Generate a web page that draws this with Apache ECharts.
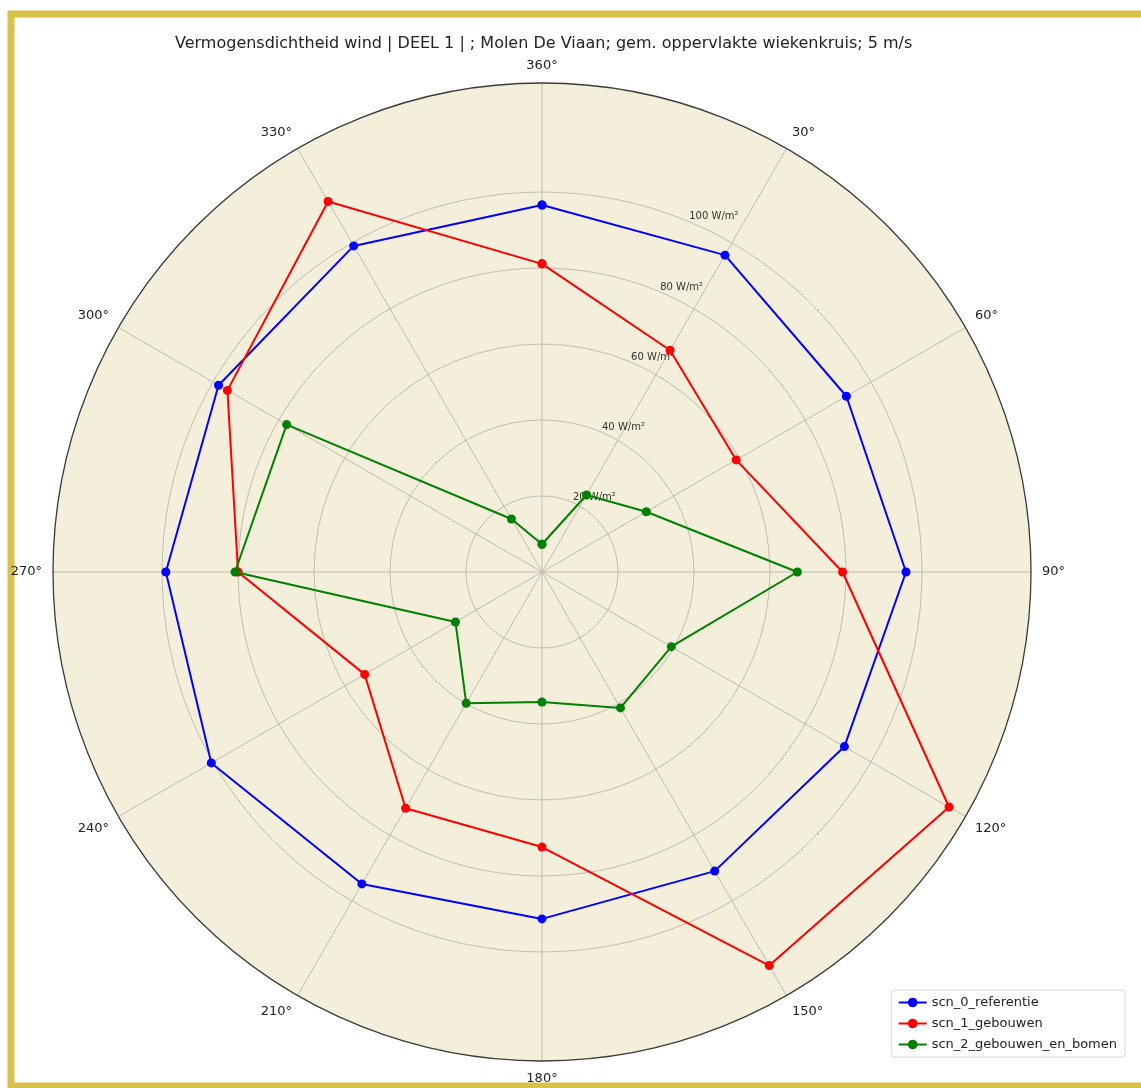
<!DOCTYPE html>
<html>
<head>
<meta charset="utf-8">
<script src="https://cdn.jsdelivr.net/npm/echarts@6/dist/echarts.min.js"></script>
<style>
  html, body { margin: 0; padding: 0; background: #ffffff; }
  #chart { width: 1141px; height: 1088px; }
</style>
</head>
<body>
<div id="chart"></div>
<script>
// Wind directions (degrees, clockwise from north)
const directions = [0, 30, 60, 90, 120, 150, 180, 210, 240, 270, 300, 330];

// Power density per direction (W/m²)
const referentie = [96.6, 96.3, 92.5, 95.8, 91.9, 90.9, 91.3, 94.8, 100.5, 99.0, 98.3, 99.1];
const gebouwen = [81.1, 67.4, 59.0, 79.1, 123.7, 119.6, 72.4, 71.8, 53.9, 80.0, 95.6, 112.6];
const gebouwenEnBomen = [7.3, 23.4, 31.7, 67.2, 39.3, 41.3, 34.2, 39.9, 26.3, 80.8, 77.6, 16.1];

const seriesNames = ['scn_0_referentie', 'scn_1_gebouwen', 'scn_2_gebouwen_en_bomen'];
const seriesColors = ['#0000ff', '#ff0000', '#008000'];

// Radial ticks that get a ring and a label
const radiusTicks = [20, 40, 60, 80, 100];
const radiusMax = 128.7;
const angleTicks = [0, 30, 60, 90, 120, 150, 180, 210, 240, 270, 300, 330];

const FONT = 'DejaVu Sans';
const GRID = '#bfbdb3';
const FACE = '#f4efdb';

// Closed ring: repeat the first direction at the end
function ring(values) {
  const pts = directions.map((d, i) => [values[i], d]);
  pts.push([values[0], 360]);
  return pts;
}

const chart = echarts.init(document.getElementById('chart'), null, { renderer: 'canvas' });

// Ring colours by tick index: 0, 20..100, 120, outer
const ringColors = ['rgba(0,0,0,0)'];
radiusTicks.forEach(() => ringColors.push(GRID));
ringColors.push('rgba(0,0,0,0)', 'rgba(0,0,0,0)');

const series = [referentie, gebouwen, gebouwenEnBomen].map((vals, i) => ({
  name: seriesNames[i],
  type: 'line',
  coordinateSystem: 'polar',
  polarIndex: 0,
  data: ring(vals),
  symbol: 'circle',
  symbolSize: 9,
  showSymbol: true,
  color: seriesColors[i],
  lineStyle: { width: 2, color: seriesColors[i] },
  itemStyle: { color: seriesColors[i] },
  animation: false,
  z: 3 + i
}));

chart.setOption({
  animation: false,
  backgroundColor: '#ffffff',
  title: {
    text: 'Vermogensdichtheid wind | DEEL 1 | ; Molen De Viaan; gem. oppervlakte wiekenkruis; 5 m/s',
    left: 170,
    top: 31,
    textStyle: { fontFamily: FONT, fontSize: 16, fontWeight: 'normal', color: '#222' }
  },
  legend: {
    data: seriesNames,
    orient: 'vertical',
    right: 16,
    bottom: 31,
    itemWidth: 28,
    itemHeight: 12,
    itemGap: 8,
    itemTextGap: 10,
    padding: [6, 8, 6, 6],
    backgroundColor: '#ffffff',
    borderColor: '#d6d6d6',
    borderWidth: 1,
    borderRadius: 3,
    textStyle: { fontFamily: FONT, fontSize: 13, color: '#222' }
  },
  polar: [
    { center: [542, 572], radius: 489 },
    { center: [542, 572], radius: 489 }
  ],
  angleAxis: [
    {
      polarIndex: 0,
      type: 'value',
      min: 0,
      max: 360,
      interval: 30,
      startAngle: 90,
      clockwise: true,
      z: 2,
      axisLine: { show: true, lineStyle: { color: '#3a3a3a', width: 1.3 } },
      axisTick: { show: false },
      axisLabel: {
        margin: 11,
        fontFamily: FONT,
        fontSize: 13,
        color: '#222',
        formatter: v => (v === 0 || v === 360) ? '360°' : (angleTicks.includes(v) ? v + '°' : '')
      },
      splitLine: { show: true, lineStyle: { color: GRID, width: 1 } },
      splitArea: { show: false }
    },
    {
      polarIndex: 1,
      type: 'value',
      min: 0,
      max: 360,
      startAngle: 67.5,
      clockwise: true,
      z: 0,
      axisLine: { show: false },
      axisTick: { show: false },
      axisLabel: { show: false },
      splitLine: { show: false },
      splitArea: { show: true, areaStyle: { color: [FACE] } }
    }
  ],
  radiusAxis: [
    {
      polarIndex: 0,
      type: 'value',
      min: 0,
      max: radiusMax,
      interval: 20,
      z: 2,
      axisLine: { show: false },
      axisTick: { show: false },
      axisLabel: { show: false },
      splitLine: { show: true, lineStyle: { color: ringColors, width: 1 } }
    },
    {
      polarIndex: 1,
      type: 'value',
      min: 0,
      max: radiusMax,
      interval: 20,
      z: 2,
      axisLine: { show: false },
      axisTick: { show: false },
      splitLine: { show: false },
      axisLabel: {
        margin: -2,
        align: 'left',
        verticalAlign: 'bottom',
        fontFamily: FONT,
        fontSize: 10,
        color: '#333',
        formatter: v => radiusTicks.includes(v) ? v + ' W/m²' : ''
      }
    }
  ],
  graphic: [
    {
      type: 'rect',
      z: -10,
      silent: true,
      shape: { x: 11, y: 14, width: 1200, height: 1072 },
      style: { fill: 'none', stroke: '#d9bf4b', lineWidth: 7 }
    }
  ],
  series: series
});
</script>
</body>
</html>
